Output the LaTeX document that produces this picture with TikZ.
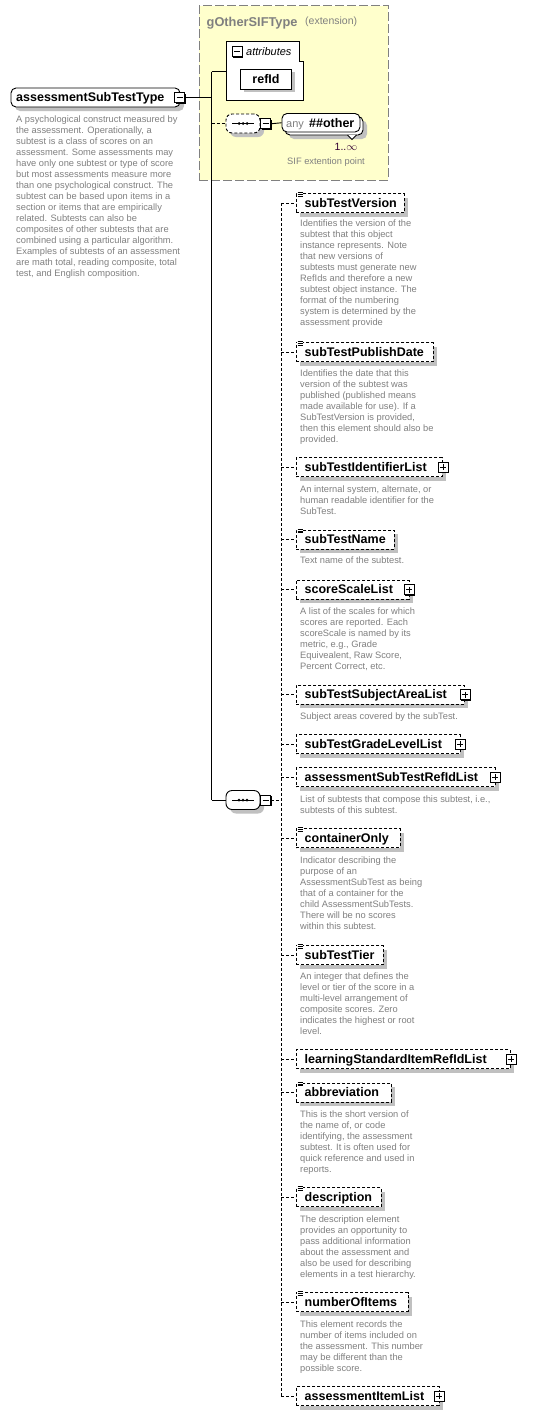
\documentclass[tikz,border=0pt]{standalone}
\usepackage{fontspec}
\setmainfont{Liberation Sans}
\usetikzlibrary{shadows}
\definecolor{shadowgray}{RGB}{192,192,192}
\definecolor{descgray}{RGB}{128,128,128}
\definecolor{extfill}{RGB}{255,255,204}
\definecolor{extborder}{RGB}{128,128,128}
\definecolor{occcolor}{RGB}{51,0,51}
\newcommand{\namefont}{\fontsize{12.5}{14}\selectfont\bfseries}
\newcommand{\descfont}{\fontsize{9.3}{11}\selectfont}
\tikzset{
  shadowed/.style={drop shadow={shadow xshift=4pt, shadow yshift=-4pt, opacity=1, fill=shadowgray}},
  elembox/.style={draw=black, fill=white, dash pattern=on 3pt off 2pt, line width=0.9pt,
    minimum height=19pt, inner sep=0, anchor=west, shadowed},
  ename/.style={font=\namefont, anchor=base west, inner sep=0},
  desc/.style={font=\descfont, text=descgray, align=left, anchor=north west, inner sep=0},
  spinedash/.style={draw=black, line width=0.9pt, dash pattern=on 3pt off 2pt},
  solidline/.style={draw=black, line width=0.9pt},
  pmbox/.style={draw=black, fill=white, minimum width=10pt, minimum height=10pt, inner sep=0,
    line width=0.8pt, drop shadow={shadow xshift=1pt, shadow yshift=-1pt, opacity=1, fill=black}},
  minusbox/.style={pmbox, path picture={
    \draw[line width=0.8pt] ([xshift=2pt]path picture bounding box.west) -- ([xshift=-2pt]path picture bounding box.east);}},
  plusbox/.style={pmbox, path picture={
    \draw[line width=0.8pt] ([xshift=2pt]path picture bounding box.west) -- ([xshift=-2pt]path picture bounding box.east);
    \draw[line width=0.8pt] ([yshift=-2pt]path picture bounding box.north) -- ([yshift=2pt]path picture bounding box.south);}},
  compbox/.style={rectangle, rounded corners=6pt, minimum width=34pt,
    minimum height=19pt, inner sep=0, draw=black, fill=white, line width=0.9pt, shadowed},
  anybox/.style={rectangle, rounded corners=5pt, minimum width=78pt,
    minimum height=18.5pt, inner sep=0, draw=black, fill=white, line width=0.9pt},
}
\newcommand{\elem}[3]{%
  \node[elembox, minimum width=#3pt] (#1) at (296,#2) {};
  \node[ename] (#1-n) at (304.5,#2+4.3) {#1};
  \draw[spinedash] (#1.west -| sp) -- (#1.west);
}
\newcommand{\plusof}[1]{\node[plusbox] (#1-p) at (#1.east) {};}
\newcommand{\docof}[1]{%
  \begin{scope}[shift={(#1.north west)}]
    \fill[white] (0.8,-1.2) rectangle (7.2,4.6);
    \draw[line width=0.7pt] (1.5,-0.6) -- (6.5,-0.6) (1.5,1.3) -- (6.5,1.3) (1.5,3.2) -- (6.5,3.2);
  \end{scope}}
\newcommand{\compdots}[1]{%
  \draw[line width=0.9pt] ([xshift=-11pt]#1.center) -- ([xshift=11pt]#1.center);
  \fill ([xshift=-4pt]#1.center) circle (1.5pt);
  \fill (#1.center) circle (1.5pt);
  \fill ([xshift=4pt]#1.center) circle (1.5pt);}
\begin{document}
\begin{tikzpicture}[x=1pt,y=-1pt]
\useasboundingbox (0,0) rectangle (539,1416);
\fill[white] (0,0) rectangle (539,1416);

% extension box
\node[draw=extborder, fill=extfill, dash pattern=on 9pt off 3pt, line width=1pt,
  minimum width=189pt, minimum height=174.5pt, anchor=north west, inner sep=0] (ext) at (198.5,5) {};
\node[font=\fontsize{12.8}{14}\selectfont\bfseries, text=extborder, anchor=base west, inner sep=0] (exttitle) at (206.5,26.5) {gOtherSIFType};
\node[font=\fontsize{10.5}{12}\selectfont, text=extborder, anchor=base west, inner sep=0] (extnote) at (305,24.5) {(extension)};

% attributes
\draw[fill=white, line width=0.9pt] (226,41.5) -- (299.5,41.5) -- (299.5,61) -- (303,61) -- (303,100) -- (226,100) -- cycle;
\coordinate (attrW) at (226,71.5);
\node[minusbox] (attrm) at (237,51.5) {};
\node[font=\fontsize{11}{13}\selectfont\itshape, anchor=base west, inner sep=0] (attrl) at (246,55.3) {attributes};
\node[draw=black, fill=white, line width=0.9pt, minimum width=51pt, minimum height=20pt, inner sep=0,
  drop shadow={shadow xshift=3pt, shadow yshift=-3pt, opacity=1, fill=shadowgray}, font=\namefont] (refid) at (266,79.3) {refId};

% main node
\node[rectangle, rounded corners=5pt, minimum width=169pt, minimum height=19pt,
  inner sep=0, draw=black, fill=white, line width=0.9pt, shadowed] (main) at (95.5,97.5) {};
\node[ename] (main-n) at (16,101.8) {assessmentSubTestType};
\node[minusbox] (mainm) at (179.5,97.8) {};
\node[desc] (main-d) at (16,115.2) {\rule{0pt}{7pt}A psychological construct measured by\\
the assessment. Operationally, a\\
subtest is a class of scores on an\\
assessment. Some assessments may\\
have only one subtest or type of score\\
but most assessments measure more\\
than one psychological construct. The\\
subtest can be based upon items in a\\
section or items that are empirically\\
related. Subtests can also be\\
composites of other subtests that are\\
combined using a particular algorithm.\\
Examples of subtests of an assessment\\
are math total, reading composite, total\\
test, and English composition.};

% junctions
\coordinate (j0) at (211.5,97.8);
\coordinate (jt) at (211.5,71.5);
\coordinate (ja) at (211.5,123.5);
\coordinate (jb) at (211.5,800);
\coordinate (sp) at (281,0);
\draw[solidline] (mainm.east) -- (j0);
\draw[solidline] (jt) -- (jb);
\draw[solidline] (jt) -- (attrW);

% top compositor and any
\node[compbox, dash pattern=on 3pt off 2pt] (seqA) at (243,123.5) {};
\compdots{seqA}
\node[minusbox] (seqAm) at (265.5,123.8) {};
\draw[spinedash] (ja) -- (seqA.west);
\node[anybox, shadowed] (anyback) at (324,125.75) {};
\node[anybox] (any) at (321,122.75) {};
\draw[fill=white, line width=0.8pt] (347.5,135) -- (352,139.5) -- (356.5,135);
\node[font=\fontsize{11}{13}\selectfont, text=descgray, anchor=base west, inner sep=0] (any-a) at (286,127.3) {any};
\node[ename] (any-o) at (309,127.3) {\#\#other};
\draw[solidline] (seqAm.east) -- (any.west);
\node[font=\fontsize{10.5}{12}\selectfont, text=occcolor, inner sep=0] (occ) at (346,146.5) {1..\(\infty\)};
\node[font=\descfont, text=descgray, inner sep=0] (sifnote) at (326,162) {SIF extention point};

% bottom compositor
\node[compbox] (seqB) at (243,800) {};
\compdots{seqB}
\node[minusbox] (seqBm) at (265.5,800.3) {};
\draw[solidline] (jb) -- (seqB.west);
\draw[spinedash] (seqBm.east) -- (seqBm.east -| sp);

% children
\elem{subTestVersion}{203}{108}
\docof{subTestVersion}
\node[desc] (v-d) at (300,219) {\rule{0pt}{7pt}Identifies the version of the\\
subtest that this object\\
instance represents. Note\\
that new versions of\\
subtests must generate new\\
RefIds and therefore a new\\
subtest object instance. The\\
format of the numbering\\
system is determined by the\\
assessment provide};

\elem{subTestPublishDate}{352}{137}
\docof{subTestPublishDate}
\node[desc] (pd-d) at (300,369) {\rule{0pt}{7pt}Identifies the date that this\\
version of the subtest was\\
published (published means\\
made available for use). If a\\
SubTestVersion is provided,\\
then this element should also be\\
provided.};

\elem{subTestIdentifierList}{467}{146}
\plusof{subTestIdentifierList}
\node[desc] (il-d) at (300,485.7) {\rule{0pt}{7pt}An internal system, alternate, or\\
human readable identifier for the\\
SubTest.};

\elem{subTestName}{539.5}{98}
\docof{subTestName}
\node[desc] (nm-d) at (300,556.7) {\rule{0pt}{7pt}Text name of the subtest.};

\elem{scoreScaleList}{589.5}{112.5}
\plusof{scoreScaleList}
\node[desc] (ss-d) at (300,607.4) {\rule{0pt}{7pt}A list of the scales for which\\
scores are reported. Each\\
scoreScale is named by its\\
metric, e.g., Grade\\
Equivealent, Raw Score,\\
Percent Correct, etc.};

\elem{subTestSubjectAreaList}{694.5}{168}
\plusof{subTestSubjectAreaList}
\node[desc] (sa-d) at (300,712.4) {\rule{0pt}{7pt}Subject areas covered by the subTest.};

\elem{subTestGradeLevelList}{744.3}{163.5}
\plusof{subTestGradeLevelList}

\elem{assessmentSubTestRefIdList}{777.3}{198.5}
\plusof{assessmentSubTestRefIdList}
\node[desc] (rl-d) at (300,795.7) {\rule{0pt}{7pt}List of subtests that compose this subtest, i.e.,\\
subtests of this subtest.};

\elem{containerOnly}{838}{103.5}
\docof{containerOnly}
\node[desc] (co-d) at (300,856.4) {\rule{0pt}{7pt}Indicator describing the\\
purpose of an\\
AssessmentSubTest as being\\
that of a container for the\\
child AssessmentSubTests.\\
There will be no scores\\
within this subtest.};

\elem{subTestTier}{955}{87}
\docof{subTestTier}
\node[desc] (tt-d) at (300,972.4) {\rule{0pt}{7pt}An integer that defines the\\
level or tier of the score in a\\
multi-level arrangement of\\
composite scores. Zero\\
indicates the highest or root\\
level.};

\elem{learningStandardItemRefIdList}{1059.3}{214}
\plusof{learningStandardItemRefIdList}

\elem{abbreviation}{1092.5}{95}
\docof{abbreviation}
\node[desc] (ab-d) at (300,1110) {\rule{0pt}{7pt}This is the short version of\\
the name of, or code\\
identifying, the assessment\\
subtest. It is often used for\\
quick reference and used in\\
reports.};

\elem{description}{1197}{85}
\docof{description}
\node[desc] (de-d) at (300,1215.7) {\rule{0pt}{7pt}The description element\\
provides an opportunity to\\
pass additional information\\
about the assessment and\\
also be used for describing\\
elements in a test hierarchy.};

\elem{numberOfItems}{1302}{111.5}
\docof{numberOfItems}
\node[desc] (ni-d) at (300,1320.7) {\rule{0pt}{7pt}This element records the\\
number of items included on\\
the assessment. This number\\
may be different than the\\
possible score.};

\elem{assessmentItemList}{1396}{142.5}
\plusof{assessmentItemList}

% spine
\draw[spinedash] (subTestVersion.west -| sp) -- (assessmentItemList.west -| sp);
\end{tikzpicture}
\end{document}
